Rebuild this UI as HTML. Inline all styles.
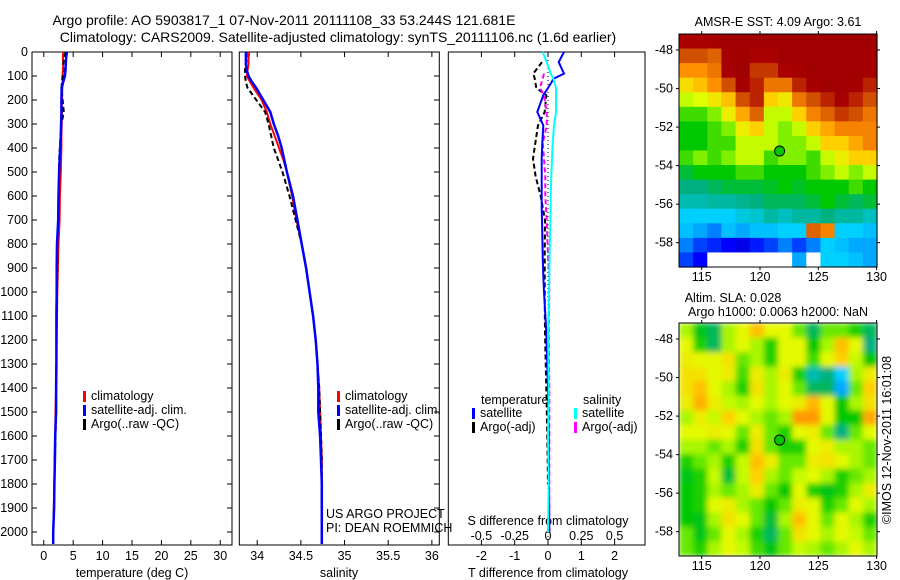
<!DOCTYPE html>
<html><head><meta charset="utf-8"><style>
html,body{margin:0;padding:0;background:#fff;}
svg{display:block;font-family:"Liberation Sans",sans-serif;}
text{font-size:12.5px;fill:#000;}
.ttl{font-size:14px;}
</style></head><body>
<svg id="c" width="900" height="580" viewBox="0 0 900 580">
<defs>
<clipPath id="clipLow"><rect x="679" y="323" width="198" height="233"/></clipPath>
<filter id="blur" x="-5%" y="-5%" width="110%" height="110%"><feGaussianBlur stdDeviation="3" edgeMode="duplicate"/></filter>
</defs>
<text class="ttl" x="284" y="25" text-anchor="middle">Argo profile: AO 5903817_1 07-Nov-2011 20111108_33 53.244S 121.681E</text>
<text class="ttl" x="338" y="42" text-anchor="middle">Climatology: CARS2009. Satellite-adjusted climatology: synTS_20111106.nc (1.6d earlier)</text>
<g id="g"></g>
</svg>
<script>
// ---------- data ----------
const depths=[0,25,50,75,100,125,150,200,250,300,350,400,450,500,600,700,800,900,1000,1100,1200,1300,1400,1500,1600,1700,1800,1900,2000,2050];
const tempClim=[3.3,3.25,3.3,3.25,3.2,3.2,3.15,3.1,3.1,3.05,3.0,3.0,2.95,2.9,2.75,2.7,2.5,2.4,2.3,2.25,2.2,2.15,2.1,2.0,1.95,1.85,1.8,1.7,1.6,1.6];
const tempSat=[3.95,3.8,3.75,3.7,3.6,3.3,3.05,3.0,3.0,2.95,2.9,2.8,2.7,2.6,2.5,2.45,2.25,2.2,2.2,2.15,2.15,2.15,2.1,2.1,1.95,1.9,1.8,1.75,1.6,1.6];
const tempArgo=[3.7,3.5,3.3,3.6,3.2,3.1,3.0,3.2,3.4,3.0,2.85,2.75,2.6,2.6,2.5,2.45,2.3,2.3,2.25,2.2,2.15,2.15,2.1,2.1,2.0,1.9,1.8,1.75,null,null];
const salClim=[33.91,33.9,33.9,33.89,33.88,33.92,33.96,34.05,34.11,34.15,34.2,34.25,34.3,34.34,34.4,34.45,34.51,34.56,34.6,34.64,34.67,34.69,34.71,34.72,34.73,34.74,34.74,34.74,34.74,34.74];
const salSat=[33.87,33.87,33.87,33.88,33.9,33.94,33.99,34.07,34.15,34.19,34.24,34.28,34.31,34.34,34.41,34.46,34.51,34.56,34.6,34.64,34.67,34.69,34.7,34.7,34.72,34.73,34.74,34.74,34.74,34.74];
const salArgo=[33.88,33.88,33.87,33.86,33.86,33.87,33.89,33.99,34.09,34.13,34.16,34.19,34.24,34.29,34.37,34.44,34.51,34.56,34.6,34.64,34.67,34.69,34.71,34.72,34.73,34.74,34.74,34.74,null,null];
const diffDepths=[0,42,90,111,150,180,250,306,380,444,520,600,653,700,850,931,1000,1167,1400,1600,1800,2000];
const dTSat=[0.48,0.32,0.48,0.17,0.0,-0.14,-0.32,-0.14,-0.17,-0.19,-0.19,-0.19,-0.19,-0.18,-0.16,-0.14,-0.12,-0.05,0.0,0.02,0.03,0.04];
const dSSat=[-0.04,-0.01,0.02,0.04,0.06,0.06,0.06,0.045,0.035,0.03,0.025,0.02,0.02,0.018,0.012,0.01,0.008,0.0,0.005,0.0,0.005,0.0];
const dTArgo=[null,-0.18,-0.44,-0.4,-0.35,-0.05,-0.1,-0.3,-0.38,-0.45,-0.37,-0.22,-0.15,-0.09,-0.1,-0.1,-0.1,-0.09,-0.05,-0.02,0.0,null];
const dSArgo=[null,null,-0.03,-0.04,-0.06,-0.03,-0.01,-0.01,-0.04,-0.03,-0.02,-0.02,-0.015,-0.01,0.0,0.01,0.01,0.005,0.01,0.01,0.01,0.01];
const depthTicks=[0,100,200,300,400,500,600,700,800,900,1000,1100,1200,1300,1400,1500,1600,1700,1800,1900,2000];
const tempTicks=[0,5,10,15,20,25,30];
const salTicks=[34,34.5,35,35.5,36];
const tDiffTicks=[-2,-1,0,1,2];
const sDiffTicks=[-0.5,-0.25,0,0.25,0.5];
const sDiffTickLabels=["-0.5","-0.25","0","0.25","0.5"];
const lonTicks=[115,120,125,130];
const latTicks=[-48,-50,-52,-54,-56,-58];
const sstGrid=[
[0.95,0.95,0.97,1,1,1,1,1,1,1,1,1,1,1],
[0.88,0.88,0.85,0.97,1,0.95,0.95,1,1,1,1,1,1,0.97],
[0.78,0.78,0.82,0.97,1,0.9,0.9,0.95,0.97,1,1,1,1,0.97],
[0.68,0.72,0.78,0.88,0.97,0.92,0.82,0.82,0.92,0.97,1,1,0.97,0.92],
[0.6,0.62,0.66,0.72,0.88,0.92,0.7,0.66,0.82,0.88,0.92,0.97,0.92,0.88],
[0.5,0.5,0.55,0.65,0.75,0.85,0.6,0.6,0.7,0.8,0.85,0.9,0.88,0.82],
[0.45,0.45,0.5,0.55,0.65,0.7,0.6,0.55,0.6,0.7,0.75,0.8,0.8,0.8],
[0.45,0.45,0.5,0.5,0.6,0.6,0.6,0.55,0.55,0.6,0.7,0.7,0.75,0.8],
[0.5,0.55,0.5,0.55,0.6,0.6,0.5,0.55,0.55,0.5,0.6,0.65,0.7,0.7],
[0.42,0.45,0.45,0.45,0.5,0.5,0.45,0.45,0.45,0.5,0.55,0.6,0.55,0.6],
[0.38,0.38,0.4,0.42,0.42,0.42,0.43,0.45,0.43,0.45,0.45,0.45,0.5,0.45],
[0.35,0.35,0.36,0.36,0.37,0.38,0.4,0.4,0.4,0.42,0.45,0.42,0.4,0.42],
[0.3,0.3,0.3,0.3,0.32,0.33,0.36,0.34,0.36,0.36,0.38,0.36,0.36,0.34],
[0.28,0.25,0.2,0.28,0.25,0.28,0.28,0.3,0.3,0.85,0.8,0.3,0.3,0.28],
[0.2,0.15,0.13,0.1,0.08,0.12,0.15,0.2,0.15,0.2,0.3,0.28,0.25,0.25],
[0.15,0.1,-1,-1,-1,-1,-1,-1,0.25,-1,0.3,0.3,0.28,0.25]];
const slaGrid=[
[0.58,0.44,0.4,0.58,0.63,0.72,0.63,0.63,0.53,0.4,0.53,0.53,0.47,0.4],
[0.63,0.47,0.4,0.58,0.63,0.58,0.47,0.63,0.63,0.45,0.58,0.72,0.63,0.38],
[0.65,0.63,0.63,0.67,0.53,0.58,0.47,0.63,0.63,0.5,0.63,0.7,0.6,0.45],
[0.67,0.67,0.63,0.65,0.5,0.65,0.58,0.65,0.47,0.35,0.38,0.3,0.58,0.65],
[0.67,0.72,0.63,0.58,0.47,0.67,0.58,0.63,0.53,0.4,0.4,0.25,0.53,0.7],
[0.65,0.74,0.65,0.6,0.58,0.63,0.58,0.63,0.65,0.73,0.63,0.45,0.58,0.67],
[0.58,0.65,0.6,0.7,0.63,0.58,0.53,0.58,0.77,0.77,0.63,0.45,0.45,0.75],
[0.63,0.63,0.65,0.63,0.53,0.65,0.53,0.47,0.63,0.65,0.53,0.38,0.53,0.63],
[0.58,0.58,0.53,0.58,0.47,0.67,0.53,0.47,0.47,0.63,0.65,0.58,0.58,0.53],
[0.47,0.53,0.58,0.47,0.6,0.72,0.65,0.53,0.53,0.65,0.67,0.63,0.58,0.53],
[0.44,0.47,0.6,0.42,0.6,0.7,0.58,0.53,0.6,0.63,0.58,0.47,0.53,0.58],
[0.45,0.47,0.58,0.53,0.58,0.65,0.53,0.45,0.63,0.47,0.44,0.47,0.58,0.65],
[0.45,0.47,0.63,0.65,0.58,0.53,0.45,0.53,0.65,0.63,0.47,0.53,0.63,0.58],
[0.45,0.44,0.58,0.67,0.63,0.53,0.42,0.58,0.72,0.63,0.53,0.63,0.58,0.47],
[0.53,0.44,0.53,0.63,0.58,0.47,0.4,0.53,0.67,0.63,0.58,0.63,0.6,0.53],
[0.53,0.47,0.58,0.63,0.6,0.5,0.44,0.53,0.6,0.58,0.53,0.58,0.63,0.58]];
const floatLon=121.681, floatLat=-53.244;

// ---------- helpers ----------
const NS="http://www.w3.org/2000/svg";
const G=document.getElementById('g');
function el(tag,attrs,parent){const e=document.createElementNS(NS,tag);for(const k in attrs)e.setAttribute(k,attrs[k]);(parent||G).appendChild(e);return e;}
function txt(x,y,s,anchor,parent){const t=el('text',{x:x,y:y,'text-anchor':anchor||'middle'},parent);t.textContent=s;return t;}
const top0=52, yBot=545;
const yD=d=>top0+d*0.24;
const xT=v=>32+(v+2)/34*200;
const xS=v=>239.3+(v-33.795)/2.29*200;
const xDT=v=>548+v*33.3;
const xDS=v=>548+v*133.2;
function frame(x0,x1,name){const r=el('rect',{x:x0,y:top0,width:x1-x0,height:yBot-top0,fill:'none',stroke:'#000','stroke-width':1});}
function line(xs,ys,xf,yf,color,w,dash,name){
  let d='',pen=false;
  for(let i=0;i<xs.length;i++){
    if(ys[i]==null){pen=false;continue;}
    d+=(pen?'L':'M')+xf(ys[i]).toFixed(1)+' '+yf(xs[i]).toFixed(1)+' ';pen=true;
  }
  const p=el('path',{d:d,fill:'none',stroke:color,'stroke-width':w});
  if(dash)p.setAttribute('stroke-dasharray',dash);
  
  
}
function legend(x,y,color,label,name){
  const r=el('rect',{x:x,y:y-9,width:3,height:11,fill:color});
  
  
  const t=txt(x+8,y,label,'start');
  
  
}

// ---------- panel 1: temperature ----------
frame(32,232,'temperature-panel-frame');
depthTicks.forEach(d=>{
  const y=yD(d);
  el('line',{x1:32,x2:37,y1:y,y2:y,stroke:'#000'});
  el('line',{x1:227,x2:232,y1:y,y2:y,stroke:'#000'});
  el('line',{x1:434,x2:439.3,y1:y,y2:y,stroke:'#000'});
  const t=txt(28,y+4,String(d),'end');
  
  
});
tempTicks.forEach(v=>{
  const x=xT(v);
  el('line',{x1:x,x2:x,y1:yBot,y2:yBot-5,stroke:'#000'});
  el('line',{x1:x,x2:x,y1:top0,y2:top0+5,stroke:'#000'});
  const t=txt(x,560,String(v));
  
  
});
let tt=txt(132,577,'temperature (deg C)');


line(depths,tempClim,xT,yD,'#ff0000',2,null,'temperature-climatology-line');
line(depths,tempArgo,xT,yD,'#000',2,'5,3','temperature-argo-line');
line(depths,tempSat,xT,yD,'#0000ff',2.5,null,'temperature-satellite-line');
legend(83,400,'#ff0000','climatology','temp-legend-climatology');
legend(83,414,'#0000ff','satellite-adj. clim.','temp-legend-satellite');
legend(83,428,'#000','Argo(..raw -QC)','temp-legend-argo');

// ---------- panel 2: salinity ----------
frame(239.3,439.3,'salinity-panel-frame');
salTicks.forEach(v=>{
  const x=xS(v);
  el('line',{x1:x,x2:x,y1:yBot,y2:yBot-5,stroke:'#000'});
  el('line',{x1:x,x2:x,y1:top0,y2:top0+5,stroke:'#000'});
  const t=txt(x,560,String(v));
  
  
});
tt=txt(339,577,'salinity');


line(depths,salClim,xS,yD,'#ff0000',2,null,'salinity-climatology-line');
line(depths,salArgo,xS,yD,'#000',2,'5,3','salinity-argo-line');
line(depths,salSat,xS,yD,'#0000ff',2.5,null,'salinity-satellite-line');
legend(337,400,'#ff0000','climatology','sal-legend-climatology');
legend(337,414,'#0000ff','satellite-adj. clim.','sal-legend-satellite');
legend(337,428,'#000','Argo(..raw -QC)','sal-legend-argo');
tt=txt(326,518,'US ARGO PROJECT','start');


tt=txt(326,532,'PI: DEAN ROEMMICH','start');



// ---------- panel 3: differences ----------
frame(448.3,645,'difference-panel-frame');
tDiffTicks.forEach(v=>{
  const x=xDT(v);
  el('line',{x1:x,x2:x,y1:yBot,y2:yBot-5,stroke:'#000'});
  el('line',{x1:x,x2:x,y1:top0,y2:top0+5,stroke:'#000'});
  const t=txt(x,560,String(v));
  
  
});
sDiffTicks.forEach((v,i)=>{
  const t=txt(xDS(v),540,sDiffTickLabels[i]);
  
  
});
el('line',{x1:548,x2:548,y1:top0,y2:yBot,stroke:'#000','stroke-dasharray':'1,3'});
tt=txt(548,525,'S difference from climatology');


tt=txt(548,577,'T difference from climatology');


line(diffDepths,dTArgo,xDT,yD,'#000',2,'5,3','t-diff-argo-line');
line(diffDepths,dSArgo,xDS,yD,'#ff00ff',2,'5,3','s-diff-argo-line');
line(diffDepths,dTSat,xDT,yD,'#0000ff',2,null,'t-diff-satellite-line');
line(diffDepths,dSSat,xDS,yD,'#00ffff',2,null,'s-diff-satellite-line');
tt=txt(481,404,'temperature','start');


tt=txt(583,404,'salinity','start');


legend(472,417,'#0000ff','satellite','diff-legend-t-satellite');
legend(472,431,'#000','Argo(-adj)','diff-legend-t-argo');
legend(574,417,'#00ffff','satellite','diff-legend-s-satellite');
legend(574,431,'#ff00ff','Argo(-adj)','diff-legend-s-argo');

// ---------- maps ----------
const stops=[[0,[0,0,144]],[0.1,[0,0,255]],[0.2,[0,128,255]],[0.3,[0,208,255]],[0.38,[0,176,128]],[0.45,[0,200,0]],[0.55,[128,240,0]],[0.62,[224,255,0]],[0.7,[255,208,0]],[0.78,[255,144,0]],[0.88,[208,80,0]],[0.95,[170,0,0]],[1,[160,0,0]]];
function cmap(v){
  if(v<0)return '#ffffff';
  for(let i=1;i<stops.length;i++){if(v<=stops[i][0]){const a=stops[i-1],b=stops[i],t=(v-a[0])/(b[0]-a[0]);
    return 'rgb('+a[1].map((c,k)=>Math.round(c+(b[1][k]-c)*t)).join(',')+')';}}
  return 'rgb(160,0,0)';
}
function map(y0,grid,name,blur){
  const x0=679,w=198,h=233;
  const lonX=l=>701.7+(l-115)*11.66;
  const latY=l=>y0+16+(-48-l)*19.27;
  let host=G;
  if(blur){
    const outer=el('g',{'clip-path':'url(#clipLow)'});
    host=el('g',{filter:'url(#blur)'},outer);
  }
  const rows=grid.length,cols=grid[0].length,cw=w/cols,ch=h/rows;
  grid.forEach((row,r)=>row.forEach((v,c)=>{
    const rc=el('rect',{x:(x0+c*cw).toFixed(2),y:(y0+r*ch).toFixed(2),width:(cw+0.6).toFixed(2),height:(ch+0.6).toFixed(2),fill:cmap(v)},host);
    
    
  }));
  const f=el('rect',{x:x0,y:y0,width:w,height:h,fill:'none',stroke:'#000'});
  
  
  lonTicks.forEach(l=>{const x=lonX(l);
    el('line',{x1:x,x2:x,y1:y0+h,y2:y0+h+3,stroke:'#000'});
    el('line',{x1:x,x2:x,y1:y0,y2:y0-3,stroke:'#000'});
    const t=txt(x,y0+h+14,String(l));
    
    });
  latTicks.forEach(l=>{const y=latY(l);
    el('line',{x1:x0-3,x2:x0,y1:y,y2:y,stroke:'#000'});
    el('line',{x1:x0+w,x2:x0+w+3,y1:y,y2:y,stroke:'#000'});
    const t=txt(673,y+4,String(l),'end');
    
    });
  const c=el('circle',{cx:lonX(floatLon),cy:latY(floatLat),r:5,fill:'#00c800',stroke:'#000','stroke-width':1});
  
  
}
map(34,sstGrid,'sst-map',false);
map(323,slaGrid,'sla-map',true);
tt=txt(778,26,'AMSR-E SST: 4.09 Argo: 3.61');


tt=txt(733,302,'Altim. SLA: 0.028');


tt=txt(778,316,'Argo h1000: 0.0063 h2000: NaN');


tt=el('text',{x:0,y:0,'text-anchor':'middle',transform:'translate(891,440) rotate(-90)'});
tt.textContent='©IMOS 12-Nov-2011 16:01:08';


</script>
</body></html>
